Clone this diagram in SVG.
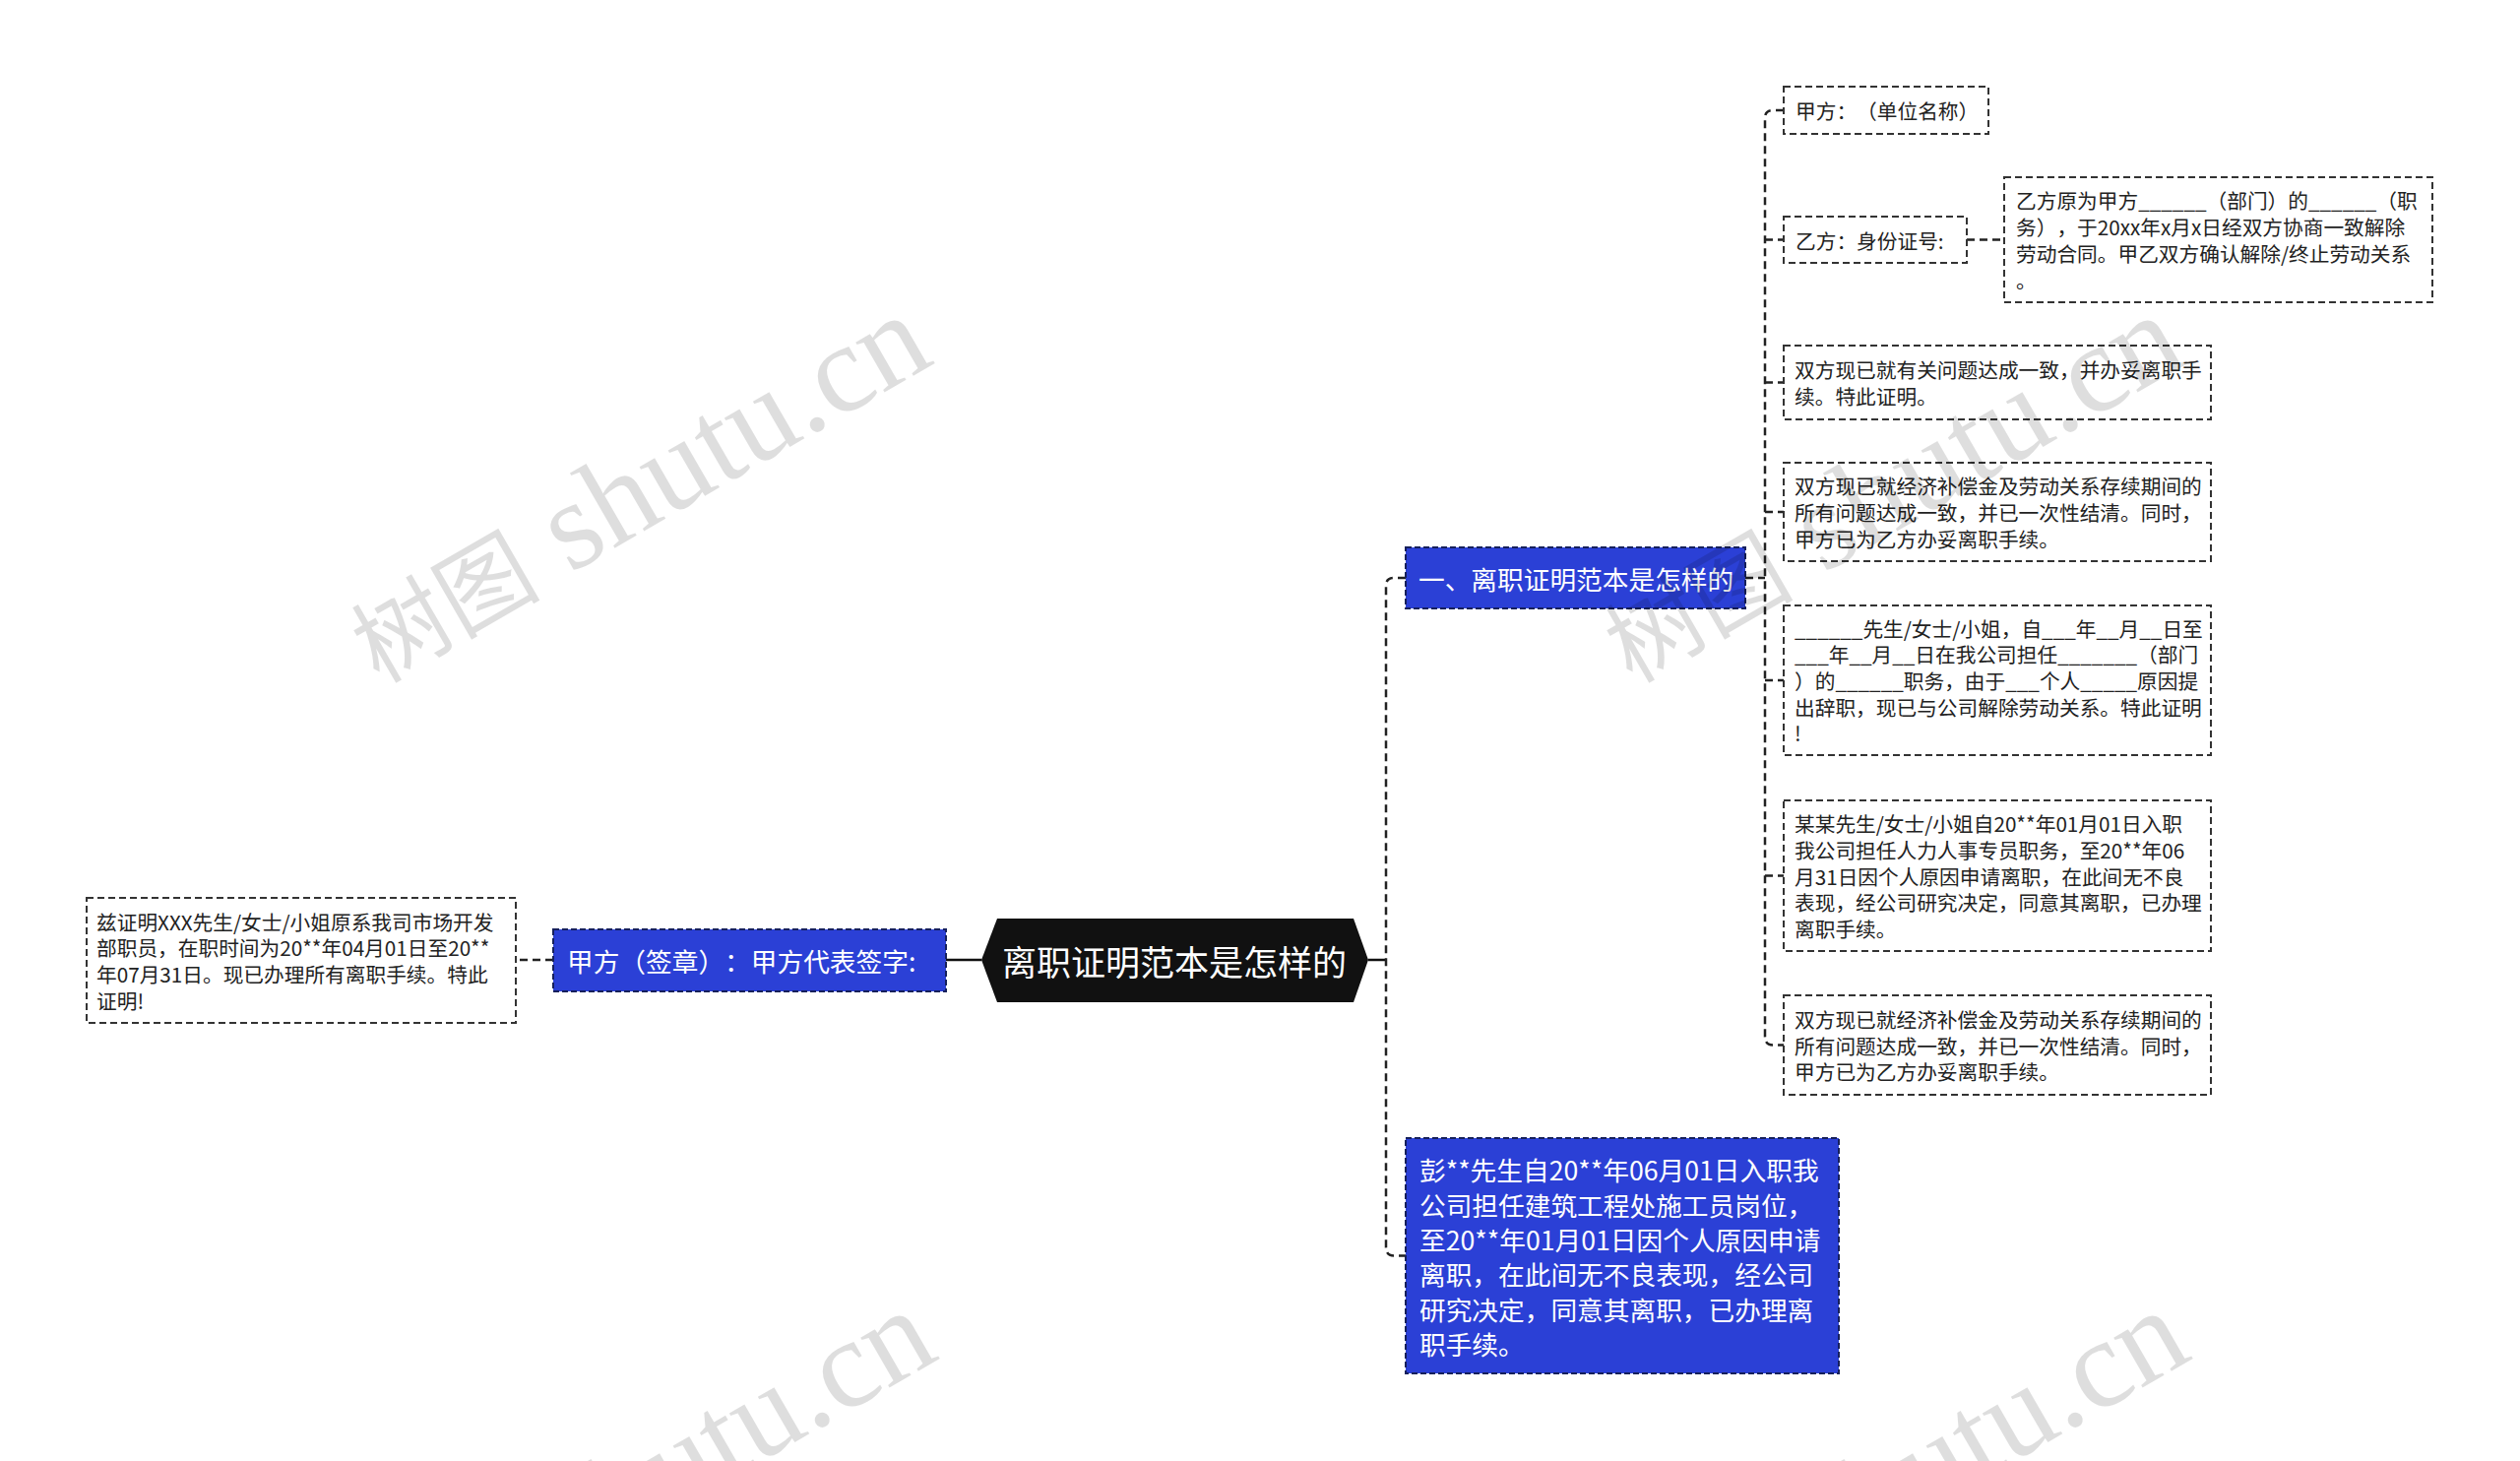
<svg xmlns="http://www.w3.org/2000/svg" width="2560" height="1484" viewBox="0 0 2560 1484">
<style>
text{font-family:"Noto Sans CJK SC","Microsoft YaHei",sans-serif;text-spacing-trim:space-all;}
.box{fill:#ffffff;stroke:#333333;stroke-width:2;stroke-dasharray:7 4;}
.blue{fill:#2b40d6;stroke:#16205c;stroke-width:2;stroke-dasharray:6 3;}
.t{font-size:20.7px;fill:#222222;dominant-baseline:central;}
.tw{font-size:26.7px;fill:#ffffff;dominant-baseline:central;}
.conn{fill:none;stroke:#222222;stroke-width:2.5;stroke-dasharray:8 5;}
.solid{fill:none;stroke:#111111;stroke-width:2.5;}
.wm{font-family:"Liberation Serif","Noto Sans CJK SC",serif;font-size:128px;fill:#000000;fill-opacity:0.13;}
.wmc{font-size:96px;}
</style>
<rect width="2560" height="1484" fill="#ffffff"/>
<g id="connectors">
<path class="solid" d="M997,975 H961"/>
<path class="conn" d="M562,975 H524"/>
<path class="solid" d="M1390,975 H1408"/>
<path class="conn" d="M1428,587 H1416 Q1408,587 1408,595 V1267 Q1408,1275.5 1416,1275.5 H1428"/>
<path class="conn" d="M1773,587 H1793"/>
<path class="conn" d="M1812,112 H1801 Q1793,112 1793,120 V1053 Q1793,1061.5 1801,1061.5 H1812"/>
<path class="conn" d="M1793,243.5 H1812 M1793,388.5 H1812 M1793,520 H1812 M1793,691 H1812 M1793,889.5 H1812"/>
<path class="conn" d="M1998,243.5 H2036"/>
</g>
<g id="root">
<polygon points="997,975 1013,933 1375,933 1390,975 1375,1018 1013,1018" fill="#111111"/>
<text x="1193" y="975" text-anchor="middle" style="font-size:35px;fill:#ffffff;dominant-baseline:central;">离职证明范本是怎样的</text>
</g>
<g id="node-jiafang-sign">
<rect class="blue" x="562" y="944" width="399" height="63"/>
<text class="tw" x="576" y="975.5">甲方（签章）：甲方代表签字:</text>
</g>
<g id="node-left-text">
<rect class="box" x="88" y="912" width="436" height="127"/>
<text class="t"><tspan x="98" y="935.5">兹证明XXX先生/女士/小姐原系我司市场开发</tspan><tspan x="98" y="962.2">部职员，在职时间为20**年04月01日至20**</tspan><tspan x="98" y="988.9">年07月31日。现已办理所有离职手续。特此</tspan><tspan x="98" y="1015.6">证明!</tspan></text>
</g>
<g id="node-section1">
<rect class="blue" x="1428" y="556" width="345" height="62"/>
<text class="tw" x="1441" y="587">一、离职证明范本是怎样的</text>
</g>
<g id="node-peng">
<rect class="blue" x="1428" y="1156" width="440" height="239"/>
<text class="tw"><tspan x="1442" y="1187.3">彭**先生自20**年06月01日入职我</tspan><tspan x="1442" y="1222.6">公司担任建筑工程处施工员岗位，</tspan><tspan x="1442" y="1257.9">至20**年01月01日因个人原因申请</tspan><tspan x="1442" y="1293.2">离职，在此间无不良表现，经公司</tspan><tspan x="1442" y="1328.5">研究决定，同意其离职，已办理离</tspan><tspan x="1442" y="1363.8">职手续。</tspan></text>
</g>
<g id="node-r1">
<rect class="box" x="1812" y="88" width="208" height="48"/>
<text class="t" x="1824" y="112">甲方：（单位名称）</text>
</g>
<g id="node-r2">
<rect class="box" x="1812" y="220" width="186" height="47"/>
<text class="t" x="1824" y="243.5">乙方：身份证号:</text>
</g>
<g id="node-r2a">
<rect class="box" x="2036" y="180" width="435" height="127"/>
<text class="t"><tspan x="2048" y="203.4">乙方原为甲方______（部门）的______（职</tspan><tspan x="2048" y="230.1">务），于20xx年x月x日经双方协商一致解除</tspan><tspan x="2048" y="256.8">劳动合同。甲乙双方确认解除/终止劳动关系</tspan><tspan x="2048" y="283.5">。</tspan></text>
</g>
<g id="node-r3">
<rect class="box" x="1812" y="351" width="434" height="75"/>
<text class="t"><tspan x="1823" y="375.2">双方现已就有关问题达成一致，并办妥离职手</tspan><tspan x="1823" y="401.9">续。特此证明。</tspan></text>
</g>
<g id="node-r4">
<rect class="box" x="1812" y="470" width="434" height="100"/>
<text class="t"><tspan x="1823" y="493.3">双方现已就经济补偿金及劳动关系存续期间的</tspan><tspan x="1823" y="520">所有问题达成一致，并已一次性结清。同时，</tspan><tspan x="1823" y="546.7">甲方已为乙方办妥离职手续。</tspan></text>
</g>
<g id="node-r5">
<rect class="box" x="1812" y="615" width="434" height="152"/>
<text class="t"><tspan x="1823" y="637.6">______先生/女士/小姐，自___年__月__日至</tspan><tspan x="1823" y="664.3">___年__月__日在我公司担任_______（部门</tspan><tspan x="1823" y="691">）的______职务，由于___个人_____原因提</tspan><tspan x="1823" y="717.7">出辞职，现已与公司解除劳动关系。特此证明</tspan><tspan x="1823" y="744.4">!</tspan></text>
</g>
<g id="node-r6">
<rect class="box" x="1812" y="813" width="434" height="153"/>
<text class="t"><tspan x="1823" y="836.1">某某先生/女士/小姐自20**年01月01日入职</tspan><tspan x="1823" y="862.8">我公司担任人力人事专员职务，至20**年06</tspan><tspan x="1823" y="889.5">月31日因个人原因申请离职，在此间无不良</tspan><tspan x="1823" y="916.2">表现，经公司研究决定，同意其离职，已办理</tspan><tspan x="1823" y="942.9">离职手续。</tspan></text>
</g>
<g id="node-r7">
<rect class="box" x="1812" y="1011" width="434" height="101"/>
<text class="t"><tspan x="1823" y="1034.8">双方现已就经济补偿金及劳动关系存续期间的</tspan><tspan x="1823" y="1061.5">所有问题达成一致，并已一次性结清。同时，</tspan><tspan x="1823" y="1088.2">甲方已为乙方办妥离职手续。</tspan></text>
</g>
<g id="watermarks">
<text class="wm" x="385" y="695" transform="rotate(-30 385 695)"><tspan class="wmc">树图</tspan> shutu.cn</text>
<text class="wm" x="1658" y="695" transform="rotate(-30 1658 695)"><tspan class="wmc">树图</tspan> shutu.cn</text>
<text class="wm" x="390" y="1706" transform="rotate(-30 390 1706)"><tspan class="wmc">树图</tspan> shutu.cn</text>
<text class="wm" x="1663" y="1706" transform="rotate(-30 1663 1706)"><tspan class="wmc">树图</tspan> shutu.cn</text>
</g>
</svg>
